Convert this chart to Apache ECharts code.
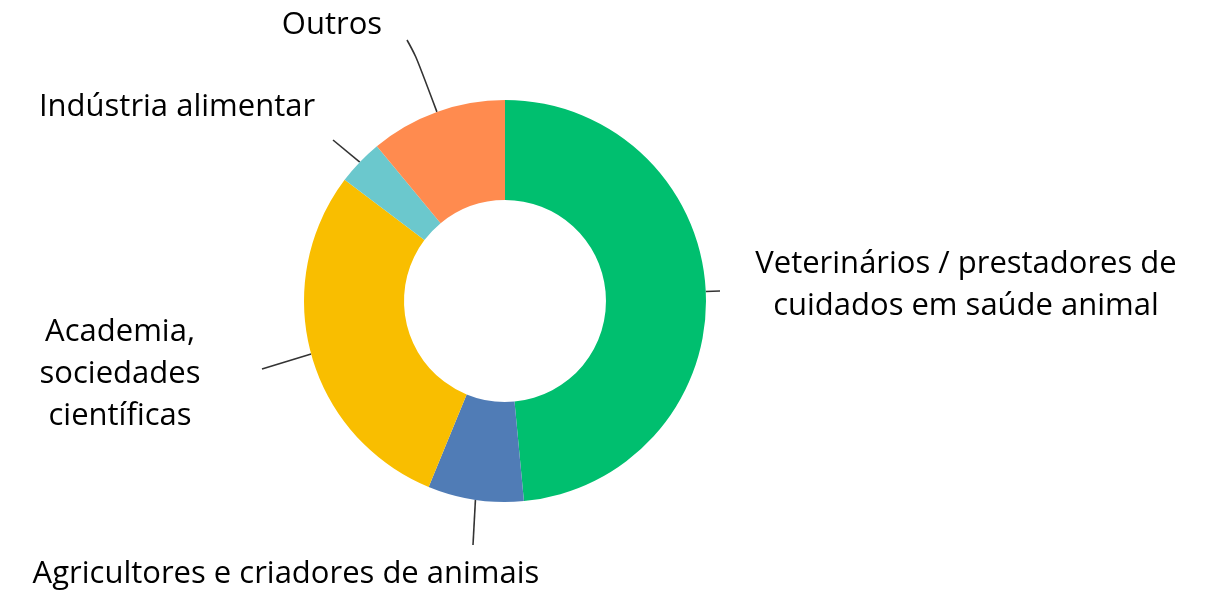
<!DOCTYPE html>
<html>
<head>
<meta charset="utf-8">
<script src="https://cdn.jsdelivr.net/npm/echarts@6/dist/echarts.min.js"></script>
<style>
  html, body { margin: 0; padding: 0; background: #fff; }
  #chart { width: 1230px; height: 594px; }
</style>
</head>
<body>
<div id="chart"></div>
<script>
// categorias (sentido horário a partir do topo)
const categories = [
    'Veterinários / prestadores de\ncuidados em saúde animal',
    'Agricultores e criadores de animais',
    'Academia,\nsociedades\ncientíficas',
    'Indústria alimentar',
    'Outros'
];
// percentagens
const values = [48.5, 7.7, 29.1, 3.7, 11.0];
const colors = ['#00BF6F', '#507CB6', '#F9BE00', '#6BC8CD', '#FF8B4F'];

// posição dos rótulos (centro do bloco de texto) e fim das linhas de chamada
const labelPos = [[966, 285], [286, 574], [120, 374], [177, 107], [332, 25]];
const lineEnd = [[720, 291], [473, 545], [262, 369], [333, 140], [407, 40]];
const lineMid = [null, null, null, null, [416, 56]];

const chart = echarts.init(document.getElementById('chart'));

const option = {
    animation: false,
    textStyle: { fontFamily: '"Open Sans", sans-serif' },
    series: [
        {
            type: 'pie',
            center: [505, 301],
            radius: [101, 201],
            startAngle: 90,
            clockwise: true,
            avoidLabelOverlap: false,
            emphasis: { disabled: true },
            itemStyle: { borderWidth: 0 },
            label: {
                show: true,
                position: 'outside',
                color: '#000',
                fontSize: 31,
                lineHeight: 42,
                align: 'center',
                fontFamily: '"Open Sans", sans-serif',
                formatter: '{b}'
            },
            labelLine: {
                show: true,
                smooth: 0.4,
                lineStyle: { color: '#333', width: 1.6 }
            },
            labelLayout: function (params) {
                const i = params.dataIndex;
                const p0 = params.labelLinePoints[0];
                const pts = [p0];
                if (lineMid[i]) pts.push(lineMid[i]);
                pts.push(lineEnd[i]);
                return {
                    x: labelPos[i][0],
                    y: labelPos[i][1],
                    align: 'center',
                    verticalAlign: 'middle',
                    labelLinePoints: pts
                };
            },
            data: categories.map((name, i) => ({
                name: name,
                value: values[i],
                itemStyle: { color: colors[i] }
            }))
        }
    ]
};

chart.setOption(option);
</script>
</body>
</html>
